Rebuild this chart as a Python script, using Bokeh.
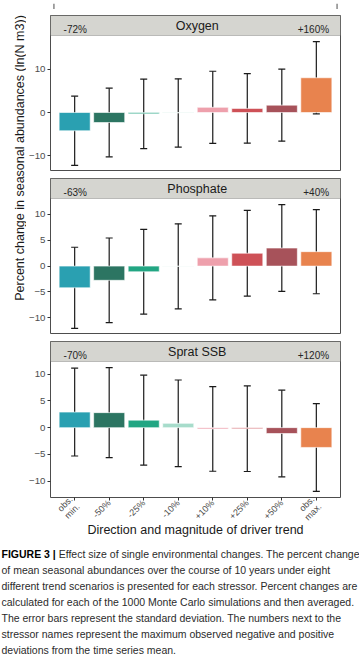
import math
import numpy as np
from bokeh.plotting import figure
from bokeh.models import (ColumnDataSource, FactorRange, Range1d, FixedTicker,
                          Whisker, TeeHead, BoxAnnotation, Span)
from bokeh.layouts import column, row
from bokeh.embed import file_html
from bokeh.resources import INLINE
from bokeh.core.properties import value
from bokeh.core.validation import silence
from bokeh.core.validation.warnings import MISSING_RENDERERS

silence(MISSING_RENDERERS, True)

# ---------------- data ----------------
scenarios = ["obs.\nmin.", "-50%", "-25%", "-10%", "+10%", "+25%", "+50%", "obs.\nmax."]
bar_colors = ["#2AA0B1", "#2C7562", "#22A683", "#A7DCCB",
              "#EEA0AC", "#CE5157", "#A7525A", "#E8834E"]

stressors = ["Oxygen", "Phosphate", "Sprat SSB"]
neg_dev = ["-72%", "-63%", "-70%"]
pos_dev = ["+160%", "+40%", "+120%"]

oxygen_mean = [-4.2, -2.3, -0.3, -0.1, 1.2, 0.95, 1.7, 8.0]
oxygen_sd = [7.95, 7.9, 8.0, 7.85, 8.3, 8.0, 8.3, 8.3]
phosphate_mean = [-4.2, -2.75, -1.1, -0.05, 1.6, 2.5, 3.5, 2.8]
phosphate_sd = [7.85, 8.2, 8.2, 8.25, 8.15, 8.3, 8.4, 8.15]
sprat_mean = [2.9, 2.8, 1.4, 0.8, -0.25, -0.2, -1.1, -3.7]
sprat_sd = [8.2, 8.4, 8.4, 8.1, 7.9, 8.0, 8.1, 8.2]

y_ticks = [[-10, 0, 10], [-10, -5, 0, 5, 10], [-10, -5, 0, 5, 10]]

y_title = "Percent change in seasonal abundances (ln(N m3))"
x_title = "Direction and magnitude of driver trend"
caption_bold = "FIGURE 3 |"
caption_lines = [
    "Effect size of single environmental changes. The percent change",
    "of mean seasonal abundances over the course of 10 years under eight",
    "different trend scenarios is presented for each stressor. Percent changes are",
    "calculated for each of the 1000 Monte Carlo simulations and then averaged.",
    "The error bars represent the standard deviation. The numbers next to the",
    "stressor names represent the maximum observed negative and positive",
    "deviations from the time series mean.",
]

# ---------------- style ----------------
FONT = "Liberation Sans"
BORDER = "#4d4d4d"
STRIP_FILL = "#D5D5D0"
TICK_COL = "#4d4d4d"
YT_W = 26
BL, BR = 19, 19
FRAME_W = 295
PANEL_W = BL + FRAME_W + BR
DATA_PX, STRIP_PX = 136, 20
STUB_H = 9
X_AXIS_B = 48


def make_range():
    return FactorRange(factors=scenarios, range_padding=0.2,
                       range_padding_units="absolute")


def panel(name, neg, pos, mean, sd, ticks, top_gap, bottom_border, show_x):
    mean = np.array(mean, dtype=float)
    sd = np.array(sd, dtype=float)
    lo_v, hi_v = (mean - sd).min(), (mean + sd).max()
    pad = 0.05 * (hi_v - lo_v)
    lo, hi = lo_v - pad, hi_v + pad
    upp = (hi - lo) / DATA_PX  # data units per pixel
    top = hi + STRIP_PX * upp

    p = figure(x_range=make_range(), y_range=Range1d(lo, top),
               width=PANEL_W, height=top_gap + DATA_PX + STRIP_PX + bottom_border,
               output_backend="svg", toolbar_location=None,
               min_border_left=BL, min_border_right=BR,
               min_border_top=top_gap, min_border_bottom=bottom_border,
               x_axis_location="below" if show_x else None)
    p.background_fill_color = "white"
    p.border_fill_color = "white"
    p.outline_line_color = BORDER
    p.outline_line_width = 1
    p.grid.visible = False

    # facet strip
    p.add_layout(BoxAnnotation(bottom=hi, fill_color=STRIP_FILL, fill_alpha=1,
                               line_color=BORDER, line_width=1, level="underlay"))
    mid = (hi + top) / 2
    p.text(x=[4.05], y=[mid], text=[name], text_align="center", text_baseline="middle",
           text_font=value(FONT), text_font_size="12.5px", text_color="#1a1a1a")
    p.text(x=[0.18], y=[mid - 3.5 * upp], text=[neg], text_align="left",
           text_baseline="middle", text_font=value(FONT), text_font_size="10px",
           text_color="#262626")
    p.text(x=[7.87], y=[mid - 3.5 * upp], text=[pos], text_align="right",
           text_baseline="middle", text_font=value(FONT), text_font_size="10px",
           text_color="#262626")

    src = ColumnDataSource(dict(x=scenarios, mean=mean, upper=mean + sd,
                                lower=mean - sd, color=bar_colors))
    p.vbar(x="x", top="mean", bottom=0, width=0.9, source=src,
           fill_color="color", fill_alpha=1, line_color="white", line_alpha=0.6,
           line_width=1)
    head_kw = dict(size=7, line_color="#1a1a1a", line_width=1.2)
    p.add_layout(Whisker(base="x", upper="upper", lower="lower", source=src,
                         line_color="#1a1a1a", line_width=1.2,
                         upper_head=TeeHead(**head_kw), lower_head=TeeHead(**head_kw)))

    ya = p.yaxis[0]
    ya.ticker = FixedTicker(ticks=ticks)
    ya.axis_line_color = None
    ya.major_tick_line_color = "#333333"
    ya.major_tick_out = 3
    ya.major_tick_in = 0
    ya.minor_tick_line_color = None
    ya.major_label_standoff = 2
    ya.major_label_text_font = FONT
    ya.major_label_text_font_size = "9.7px"
    ya.major_label_text_color = TICK_COL

    if show_x:
        xa = p.xaxis[0]
        xa.axis_line_color = None
        xa.major_tick_line_color = "#333333"
        xa.major_tick_out = 3
        xa.major_tick_in = 0
        xa.major_label_standoff = 1
        xa.major_label_orientation = math.pi / 4
        xa.major_label_text_font = FONT
        xa.major_label_text_font_size = "9px"
        xa.major_label_text_color = TICK_COL
        xa.major_label_text_line_height = 1.0
        xa.axis_label = x_title
        xa.axis_label_text_font = FONT
        xa.axis_label_text_font_size = "12.5px"
        xa.axis_label_text_font_style = "normal"
        xa.axis_label_text_color = "#1a1a1a"
        xa.axis_label_text_line_height = 1.0
        xa.axis_label_standoff = -9
    return p


# bottom edge of the panel above (cut off at the top of the figure)
stub_range = make_range()
stub = figure(x_range=stub_range, y_range=Range1d(0, 1), width=PANEL_W, height=STUB_H,
              output_backend="svg", toolbar_location=None,
              min_border_left=BL, min_border_right=BR, min_border_top=0, min_border_bottom=0,
              x_axis_location=None, y_axis_location=None)
stub.outline_line_color = None
stub.grid.visible = False
for loc, dim in ((-0.1, "height"), (8.1, "height"), (0.1, "width")):
    stub.add_layout(Span(location=loc, dimension=dim, line_color=BORDER, line_width=1))

p_oxy = panel(stressors[0], neg_dev[0], pos_dev[0], oxygen_mean, oxygen_sd, y_ticks[0], 6, 0, False)
p_pho = panel(stressors[1], neg_dev[1], pos_dev[1], phosphate_mean, phosphate_sd, y_ticks[1], 7, 0, False)
p_spr = panel(stressors[2], neg_dev[2], pos_dev[2], sprat_mean, sprat_sd, y_ticks[2], 7, X_AXIS_B, True)

stack_h = STUB_H + p_oxy.height + p_pho.height + p_spr.height

# y-axis title
yt = figure(width=YT_W, height=stack_h, x_range=Range1d(0, YT_W), y_range=Range1d(0, stack_h),
            output_backend="svg", toolbar_location=None, min_border=0,
            x_axis_location=None, y_axis_location=None)
yt.outline_line_color = None
yt.grid.visible = False
yt.text(x=[19.5], y=[stack_h - 157.5], text=[y_title], angle=math.pi / 2,
        text_align="center", text_baseline="middle", text_font=value(FONT),
        text_font_size="12.5px", text_color="#1a1a1a")

# caption
CAP_W = 359
CAP_H = 659 - stack_h
cap = figure(width=CAP_W, height=CAP_H, x_range=Range1d(0, CAP_W), y_range=Range1d(0, CAP_H),
             output_backend="svg", toolbar_location=None, min_border=0,
             x_axis_location=None, y_axis_location=None)
cap.outline_line_color = None
cap.grid.visible = False
first = 553 - stack_h
line_y = [CAP_H - (first + 16 * k) for k in range(len(caption_lines))]
cap.text(x=[1], y=[line_y[0]], text=[caption_bold], text_align="left", text_baseline="middle",
         text_font=value(FONT), text_font_size="10.5px", text_font_style="bold",
         text_color="#000000")
cap.text(x=[58.2] + [1] * (len(caption_lines) - 1), y=line_y, text=caption_lines,
         text_align="left", text_baseline="middle", text_font=value(FONT),
         text_font_size="10.5px", text_color="#2b2b2b")

layout = column(row(yt, column(stub, p_oxy, p_pho, p_spr)), cap)

open("out.html", "w").write(file_html(layout, INLINE))
